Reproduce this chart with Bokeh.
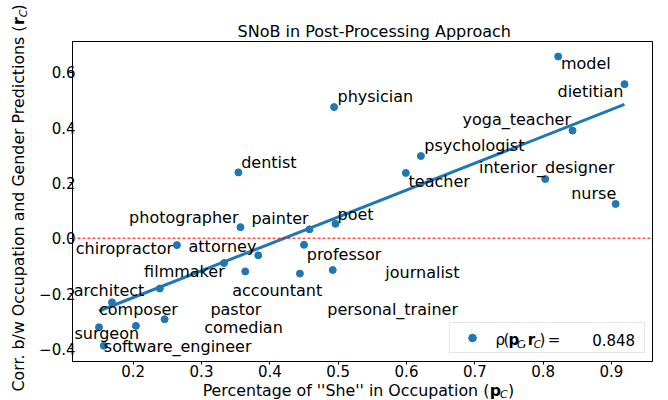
import numpy as np
from bokeh.plotting import figure
from bokeh.layouts import row, column
from bokeh.models import Range1d, FixedTicker, Span, Legend, LegendItem
from bokeh.core.properties import value
from bokeh.embed import file_html
from bokeh.resources import INLINE

# ---------------- data ----------------
occupations = ["surgeon", "software_engineer", "composer", "comedian", "architect",
               "pastor", "chiropractor", "filmmaker", "dentist", "photographer",
               "accountant", "attorney", "personal_trainer", "professor", "painter",
               "physician", "journalist", "poet", "teacher", "psychologist",
               "interior_designer", "model", "yoga_teacher", "nurse", "dietitian"]
pct_she = [0.150, 0.157, 0.169, 0.204, 0.239,
           0.246, 0.264, 0.333, 0.354, 0.357,
           0.364, 0.383, 0.444, 0.450, 0.458,
           0.494, 0.492, 0.496, 0.599, 0.621,
           0.803, 0.822, 0.843, 0.906, 0.919]
corr = [-0.322, -0.389, -0.232, -0.317, -0.182,
        -0.293, -0.025, -0.090, 0.238, 0.040,
        -0.120, -0.062, -0.128, -0.024, 0.032,
        0.474, -0.115, 0.052, 0.236, 0.297,
        0.214, 0.657, 0.389, 0.124, 0.557]

# label anchor positions (left / middle), data coordinates
label_x = [0.114, 0.157, 0.150, 0.304, 0.113,
           0.313, 0.116, 0.216, 0.358, 0.194,
           0.345, 0.281, 0.484, 0.454, 0.373,
           0.499, 0.569, 0.499, 0.603, 0.626,
           0.706, 0.826, 0.682, 0.841, 0.821]
label_y = [-0.346, -0.391, -0.259, -0.322, -0.189,
           -0.257, -0.038, -0.120, 0.275, 0.074,
           -0.189, -0.029, -0.258, -0.059, 0.070,
           0.513, -0.123, 0.086, 0.206, 0.335,
           0.257, 0.631, 0.428, 0.161, 0.530]

x_ticks = [0.2, 0.3, 0.4, 0.5, 0.6, 0.7, 0.8, 0.9]
x_tick_labels = ["0.2", "0.3", "0.4", "0.5", "0.6", "0.7", "0.8", "0.9"]
y_ticks = [-0.4, -0.2, 0.0, 0.2, 0.4, 0.6]
y_tick_labels = ["\u22120.4", "\u22120.2", "0.0", "0.2", "0.4", "0.6"]

title_text = "SNoB in Post-Processing Approach"
xlabel_main = "Percentage of ''She'' in Occupation ("
ylabel_main = "Corr. b/w Occupation and Gender Predictions ("
rho_value = "0.848"

FONT = "DejaVu Sans"
BLUE = "#1f77b4"

# ---------------- layout geometry (page pixels) ----------------
W, H = 668, 400
YW = 30          # left strip for the y-axis label
TH = 40          # top strip for the title
XH = 19          # bottom strip for the x-axis label
MW, MH = W - YW, H - TH - XH
FRAME_L, FRAME_R, FRAME_T, FRAME_B = 72, 652, 41, 361
X0, X1 = 0.1112, 0.9600
Y0, Y1 = -0.4458, 0.7112


def put_text(fig, txt, x, y, size, style="normal", angle=0.0, align="left"):
    # (x, y) is the middle of the text line
    fig.text(x=[x], y=[y], text=[txt], text_font=value(FONT),
             text_font_size=f"{size}px", text_font_style=style,
             text_baseline="middle", text_align=align, angle=angle,
             text_color="black")


def strip(w, h, x0, y0):
    # a figure whose frame is its whole canvas; data coords = (page x, -page y)
    f = figure(width=w, height=h, output_backend="svg", toolbar_location=None,
               title=None, x_range=Range1d(x0, x0 + w), y_range=Range1d(-(y0 + h), -y0),
               x_axis_location=None, y_axis_location=None,
               min_border_left=0, min_border_right=0, min_border_top=0,
               min_border_bottom=0)
    f.outline_line_color = None
    f.grid.visible = False
    f.background_fill_color = "white"
    f.border_fill_color = "white"
    return f


# ---------------- main figure ----------------
p = figure(width=MW, height=MH, output_backend="svg", toolbar_location=None,
           title=None, x_range=Range1d(X0, X1), y_range=Range1d(Y0, Y1),
           min_border_left=FRAME_L - YW, min_border_right=W - FRAME_R,
           min_border_top=FRAME_T - TH, min_border_bottom=(TH + MH) - FRAME_B)
p.background_fill_color = "white"
p.border_fill_color = "white"
p.xgrid.visible = False
p.ygrid.visible = False
p.outline_line_color = "black"
p.outline_line_width = 1

for ax in (p.xaxis[0], p.yaxis[0]):
    ax.axis_line_color = "black"
    ax.major_tick_line_color = "black"
    ax.minor_tick_line_color = None
    ax.minor_tick_out = 0
    ax.major_tick_in = 0
    ax.major_tick_out = 3
    ax.major_label_text_font = FONT
    ax.major_label_text_font_size = "15px"
    ax.major_label_text_color = "black"
p.xaxis.major_label_standoff = 0
p.yaxis.major_label_standoff = -6
p.xaxis.ticker = FixedTicker(ticks=x_ticks)
p.yaxis.ticker = FixedTicker(ticks=y_ticks)
p.xaxis.major_label_overrides = dict(zip(x_ticks, x_tick_labels))
p.yaxis.major_label_overrides = dict(zip(y_ticks, y_tick_labels))

p.add_layout(Span(location=0, dimension="width", line_color="red",
                  line_width=1, line_dash="3 2"))

slope, intercept = np.polyfit(pct_she, corr, 1)
fx = np.array([min(pct_she), max(pct_she)])
p.line(fx, slope * fx + intercept, line_width=3, color=BLUE)

pts = p.scatter(pct_she, corr, size=7, color=BLUE)

p.text(x=label_x, y=label_y, text=occupations, text_font=value(FONT),
       text_font_size="16px", text_baseline="middle", text_align="left",
       text_color="black")

legend = Legend(items=[LegendItem(label=" ", renderers=[pts])],
                location=(449 - FRAME_L, FRAME_B - 353), padding=5, spacing=0,
                margin=0, glyph_width=34, glyph_height=19, label_height=19,
                label_width=150, label_standoff=0,
                border_line_color="#cccccc", border_line_width=1,
                background_fill_color="white", background_fill_alpha=0.0)
p.add_layout(legend)


# legend label  rho(p_C, r_C) = 0.848  (page pixel -> data coords of frame)
def fx_(px):
    return X0 + (px - FRAME_L) * (X1 - X0) / (FRAME_R - FRAME_L)


def fy_(py):
    return Y1 - (py - FRAME_T) * (Y1 - Y0) / (FRAME_B - FRAME_T)


LM = 339.3       # middle of the legend text line
for txt, px, size, style, dy in [("\u03c1", 495.0, 15, "normal", 0),
                                 ("(", 503.0, 15, "normal", 0),
                                 ("p", 508.0, 15, "bold", 0),
                                 ("C", 516.5, 10.5, "italic", 4.2),
                                 (",", 521.5, 15, "normal", 0),
                                 ("r", 527.3, 15, "bold", 0),
                                 ("C", 533.3, 10.5, "italic", 4.2),
                                 (")", 539.0, 15, "normal", 0),
                                 ("=", 547.3, 15, "normal", 0),
                                 (rho_value, 591.7, 15, "normal", 0)]:
    put_text(p, txt, fx_(px), fy_(LM + dy), size, style)

# ---------------- title strip ----------------
top = strip(MW, TH, YW, 0)
put_text(top, title_text, 361.9, -30.6, 16, align="center")

# ---------------- x-label strip ----------------
xs = strip(MW, XH, YW, TH + MH)
XM = 390.3
put_text(xs, xlabel_main, 488.5, -XM, 15.8, align="right")
put_text(xs, "p", 489.0, -XM, 15.8, "bold")
put_text(xs, "C", 500.3, -(XM + 3.2), 11, "italic")
put_text(xs, ")", 509.0, -XM, 15.8)

# ---------------- y-label strip ----------------
ys = strip(YW, H, 0, 0)
A = np.pi / 2
YM = 18.3
put_text(ys, ylabel_main, YM, -25.0, 15.8, angle=A, align="right")
put_text(ys, "r", YM, -24.5, 15.8, "bold", angle=A)
put_text(ys, "C", YM + 4.2, -16.7, 11, "italic", angle=A)
put_text(ys, ")", YM, -10.0, 15.8, angle=A)

layout = row(ys, column(top, p, xs, spacing=0), spacing=0)

open("out.html", "w").write(file_html(layout, INLINE))
